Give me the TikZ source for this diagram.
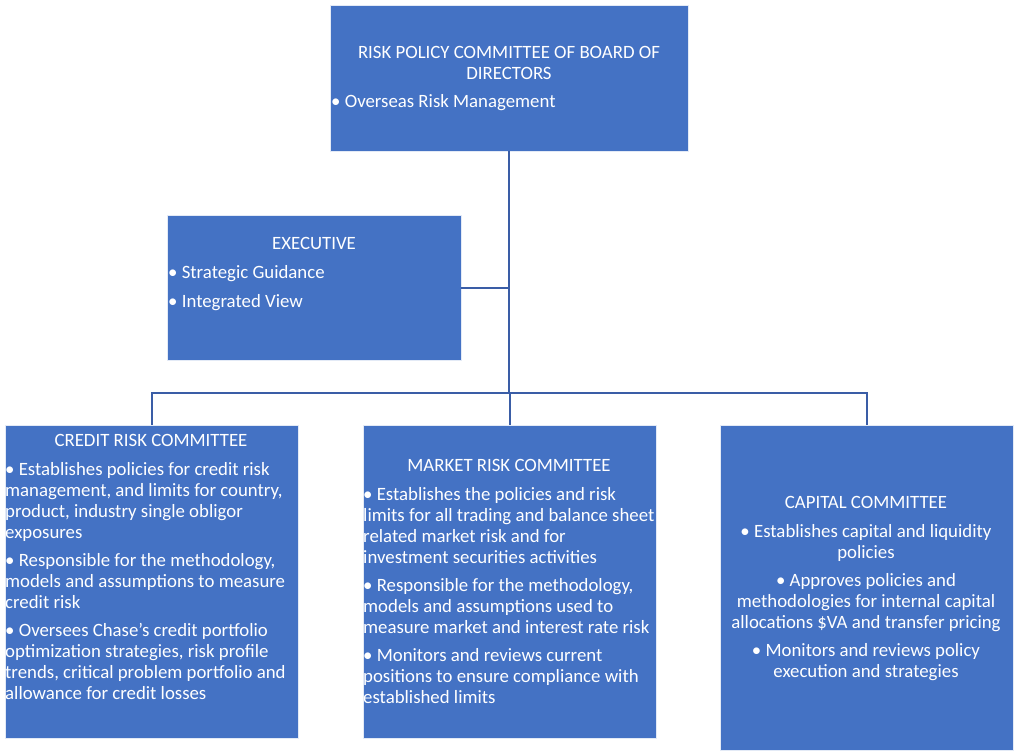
\documentclass[tikz,border=0pt]{standalone}
\usepackage{fontspec}
\setmainfont{Carlito}
\definecolor{boxblue}{HTML}{4472C4}
\definecolor{linkblue}{HTML}{3A5DA6}
\begin{document}
\begin{tikzpicture}[x=1pt,y=-1pt,
  box/.style={draw=white!85!boxblue, line width=0.8pt, fill=boxblue, inner sep=0pt, minimum width=#1},
  txt/.style={text=white, inner sep=0pt, font=\fontsize{18.8}{21}\selectfont},
  link/.style={draw=linkblue, line width=2pt}]
\useasboundingbox (0,0) rectangle (1016,754);
% boxes
\node[box=358pt, minimum height=146pt] (top) at (509,78) {};
\node[box=294pt, minimum height=145pt] (exec) at (314,287.5) {};
\node[box=293pt, minimum height=313pt] (credit) at (151.5,581.5) {};
\node[box=293pt, minimum height=313pt] (market) at (509.5,581.5) {};
\node[box=293pt, minimum height=325pt] (capital) at (866.5,587.5) {};
% texts
\node[txt, align=center, anchor=north] (topT) at (509,46) {RISK POLICY COMMITTEE OF BOARD OF\\DIRECTORS};
\node[txt, align=left, anchor=north west] (topB) at (331,94) {• Overseas Risk Management};
\node[txt, align=center, anchor=north] (execT) at (314,237) {EXECUTIVE};
\node[txt, align=left, anchor=north west] (execB) at (168,265) {• Strategic Guidance\\[8pt]• Integrated View};
\node[txt, align=center, anchor=north] (creditT) at (151,434) {CREDIT RISK COMMITTEE};
\node[txt, align=left, anchor=north west] (creditB) at (5,462) {• Establishes policies for credit risk\\management, and limits for country,\\product, industry single obligor\\exposures\\[7pt]• Responsible for the methodology,\\models and assumptions to measure\\credit risk\\[7pt]• Oversees Chase’s credit portfolio\\optimization strategies, risk profile\\trends, critical problem portfolio and\\allowance for credit losses};
\node[txt, align=center, anchor=north] (marketT) at (509,459) {MARKET RISK COMMITTEE};
\node[txt, align=left, anchor=north west] (marketB) at (363,487) {• Establishes the policies and risk\\limits for all trading and balance sheet\\related market risk and for\\investment securities activities\\[7pt]• Responsible for the methodology,\\models and assumptions used to\\measure market and interest rate risk\\[7pt]• Monitors and reviews current\\positions to ensure compliance with\\established limits};
\node[txt, align=center, anchor=north] (capitalT) at (866,496) {CAPITAL COMMITTEE};
\node[txt, align=center, anchor=north] (capitalB) at (866,524) {• Establishes capital and liquidity\\policies\\[7pt]• Approves policies and\\methodologies for internal capital\\allocations \$VA and transfer pricing\\[7pt]• Monitors and reviews policy\\execution and strategies};
% connectors
\coordinate (bus) at (509,393);
\draw[link] (top.south) -- (bus);
\draw[link] (exec.east) -- (exec.east -| bus);
\draw[link] (credit.north) -- (credit.north |- bus) -- (capital.north |- bus) -- (capital.north);
\draw[link] (market.north) -- (market.north |- bus);
\end{tikzpicture}
\end{document}
